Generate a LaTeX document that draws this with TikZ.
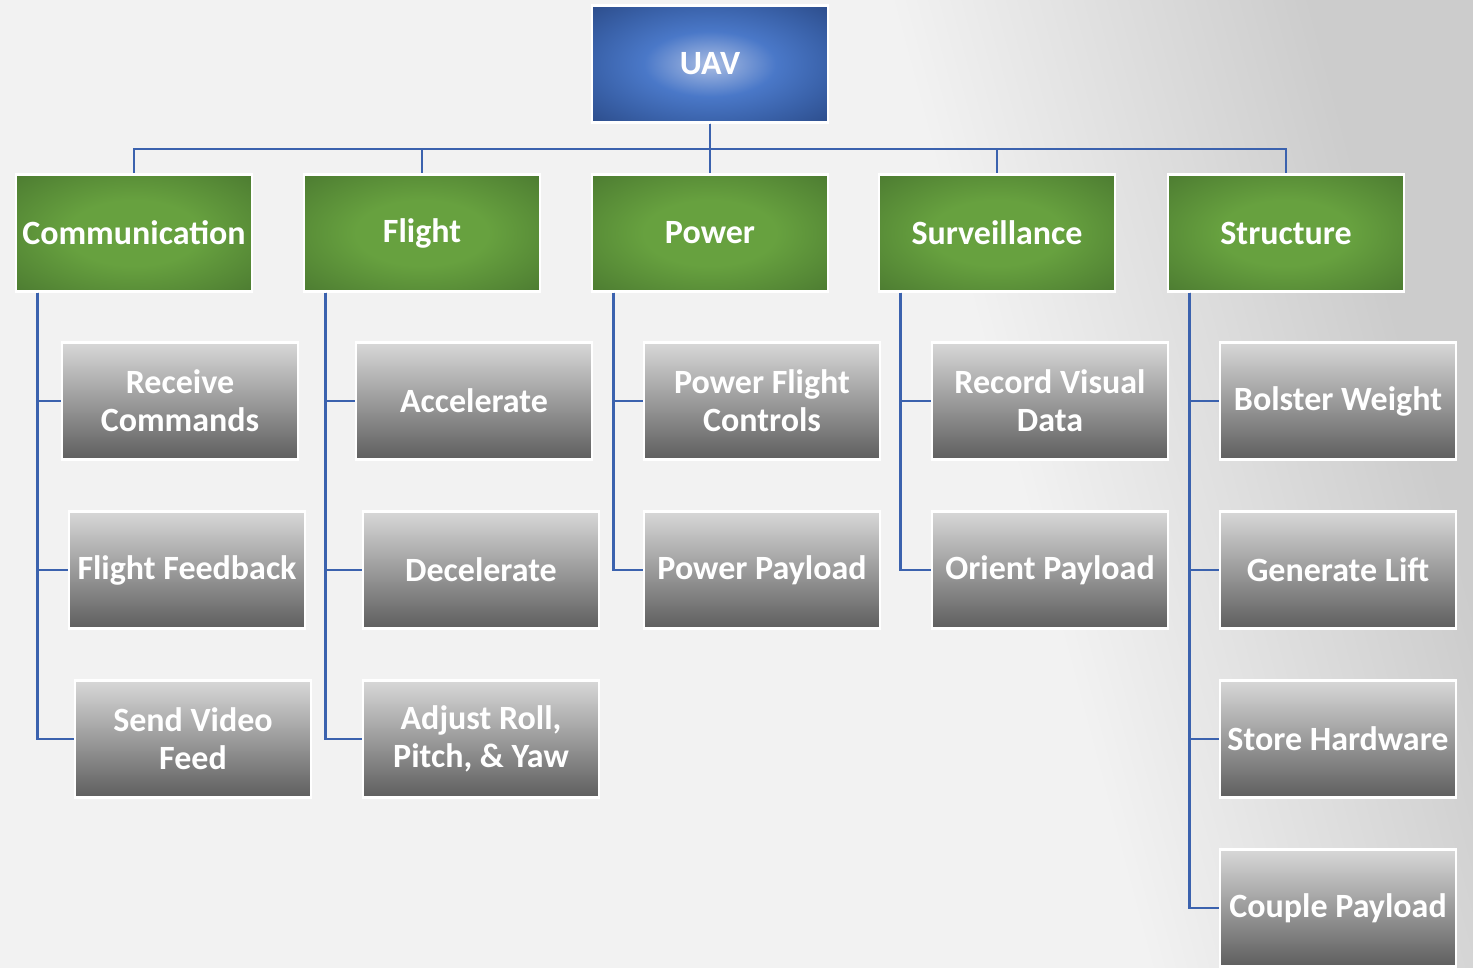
\documentclass[tikz,border=0pt]{standalone}
\usepackage{fontspec}
\setmainfont{Carlito}
\definecolor{bgA}{HTML}{F2F2F2}
\definecolor{bgB}{HTML}{CCCCCC}
\definecolor{blC}{HTML}{AABDE3}
\definecolor{blM}{HTML}{4A78C8}
\definecolor{blD}{HTML}{3A62AA}
\definecolor{blE}{HTML}{2C4C8A}
\definecolor{grC}{HTML}{67A13F}
\definecolor{grE}{HTML}{4C7B31}
\definecolor{grTop}{HTML}{D8D8D8}
\definecolor{grBot}{HTML}{5E5E5E}
\definecolor{linec}{HTML}{3B62AE}
\pgfdeclareradialshading{blueshade}{\pgfpoint{0bp}{0bp}}{color(0bp)=(blC); color(14bp)=(blM); color(25bp)=(blD); color(36bp)=(blE); color(50bp)=(blE)}
\pgfdeclareradialshading{greenshade}{\pgfpoint{0bp}{0bp}}{color(0bp)=(grC); color(14bp)=(grC); color(36bp)=(grE); color(50bp)=(grE)}
\pgfdeclarehorizontalshading{bgshade}{100bp}{color(0bp)=(bgA); color(25bp)=(bgA); color(60bp)=(bgA); color(75bp)=(bgB); color(100bp)=(bgB)}
\tikzset{
  box/.style={minimum width=236pt, minimum height=117pt, inner sep=0pt, draw=white, line width=2.5pt,
    text=white, font=\fontsize{34}{38}\selectfont\bfseries, align=center},
  topbox/.style={box, shade, shading=blueshade},
  midbox/.style={box, shade, shading=greenshade},
  leafbox/.style={box, top color=grTop, bottom color=grBot, text=white},
  conn/.style={draw=linec, line width=2.8pt},
}
\begin{document}
\begin{tikzpicture}[x=1pt,y=-1pt]
\useasboundingbox (0,0) rectangle (1473,968);
\shade[shading=bgshade, shading angle=15] (0,0) rectangle (1473,968);
% top
\node[topbox] (uav) at (710,64) {UAV};
% level 1
\node[midbox] (comm) at (134,233) {Communication};
\node[midbox] (fli) at (422,233) {Flight};
\node[midbox] (pow) at (710,233) {Power};
\node[midbox] (sur) at (997,233) {Surveillance};
\node[midbox] (str) at (1286,233) {Structure};
\coordinate (bus) at (710,149);
\foreach \n in {comm,fli,pow,sur,str}{
  \draw[conn] (uav.south) -- (bus) -| (\n.north);
}
% communication
\node[leafbox] (rc) at (180,401) {Receive\\Commands};
\node[leafbox] (ff) at (187,570) {Flight Feedback};
\node[leafbox] (svf) at (193,739) {Send Video\\Feed};
% flight
\node[leafbox] (acc) at (474,401) {Accelerate};
\node[leafbox] (dec) at (481,570) {Decelerate};
\node[leafbox] (adj) at (481,739) {Adjust Roll,\\Pitch, \& Yaw};
% power
\node[leafbox] (pfc) at (762,401) {Power Flight\\Controls};
\node[leafbox] (pp) at (762,570) {Power Payload};
% surveillance
\node[leafbox] (rvd) at (1050,401) {Record Visual\\Data};
\node[leafbox] (op) at (1050,570) {Orient Payload};
% structure
\node[leafbox] (bw) at (1338,401) {Bolster Weight};
\node[leafbox] (gl) at (1338,570) {Generate Lift};
\node[leafbox] (sh) at (1338,739) {Store Hardware};
\node[leafbox] (cp) at (1338,908) {Couple Payload};
% child connectors
\foreach \p/\c in {comm/rc,comm/ff,comm/svf,fli/acc,fli/dec,fli/adj,pow/pfc,pow/pp,sur/rvd,sur/op,str/bw,str/gl,str/sh,str/cp}{
  \draw[conn] ([xshift=22.5pt]\p.south west) |- (\c.west);
}
\end{tikzpicture}
\end{document}
